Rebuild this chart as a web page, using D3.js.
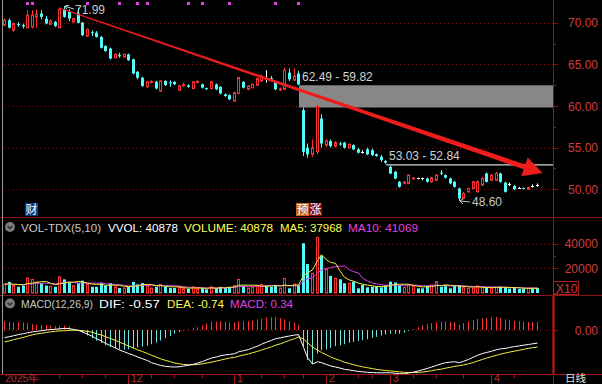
<!DOCTYPE html>
<html>
<head>
<meta charset="utf-8">
<script src="https://cdn.jsdelivr.net/npm/d3@7/dist/d3.min.js"></script>
<style>
  body { margin: 0; background: #000; }
  svg { display: block; font-family: "Liberation Sans", Arial, sans-serif; }
</style>
</head>
<body>
<svg id="chart" width="602" height="384"></svg>
<script>
// daily candles, index 0 = first bar (late Oct 2025)
const open = [69.7,70.3,69.1,69.85,69.7,69.4,69.5,70.7,71.1,70.5, 69.8,70.1,69.4,71.6,71.3,70.1,71.1,70.0,68.4,68.85,
  68.8,68.3,67.2,66.9,65.8,66.1,65.9,66.2,65.6,64.1, 63.4,62.3,62.9,62.9,61.8,63.0,62.85,62.9,61.9,62.5,
  62.45,62.1,62.9,62.6,62.15,62.1,62.6,62.3,61.4,61.3, 60.6,61.5,62.9,62.0,62.2,62.5,63.0,63.4,63.35,62.9,
  61.95,62.0,64.0,63.1,63.9,59.5,55.0,54.2,54.5,58.5, 55.3,55.8,55.2,55.5,55.6,55.0,55.3,54.8,54.5,54.8,
  54.7,54.2,53.9,53.4,52.7,52.1,50.9,50.8,50.7,51.25, 51.3,51.3,51.3,50.9,51.1,52.0,51.7,51.3,50.9,50.1,
  48.9,49.7,50.1,49.7,50.5,51.9,51.1,51.1,51.9,50.8, 50.6,50.4,50.2,50.15,50.0,50.4,50.5];
const high = [70.5,70.5,70.0,70.1,69.9,71.5,71.5,71.6,71.5,70.8, 70.4,70.2,71.7,71.99,71.6,70.6,71.8,70.1,69.3,69.1,
  69.0,68.4,67.3,67.0,66.3,66.4,66.3,66.3,65.7,64.2, 63.5,63.0,63.1,63.0,63.1,63.1,63.1,63.0,62.5,62.8,
  62.6,63.0,63.1,62.7,62.2,63.0,62.7,62.4,61.5,61.4, 61.7,63.5,63.0,62.5,62.7,63.4,63.8,64.3,63.6,63.0,
  62.2,64.6,64.5,64.5,64.2,59.82,55.5,56.0,60.3,59.0, 56.0,56.0,55.8,55.7,55.7,55.5,55.4,55.0,54.7,55.0,
  54.9,54.3,54.1,53.5,52.84,52.2,51.0,51.0,51.8,51.5, 51.4,51.4,51.4,51.5,51.8,52.3,51.8,51.4,51.0,50.2,
  49.7,50.2,51.0,51.1,51.5,52.0,51.8,52.1,52.0,50.9, 50.8,50.5,50.3,50.2,50.3,50.6,50.7];
const low = [69.6,69.3,68.9,69.5,69.3,69.4,69.3,69.4,70.4,69.8, 69.7,69.5,69.4,70.6,70.2,70.0,69.9,68.4,68.3,68.4,
  68.2,66.9,66.5,65.6,65.7,65.8,65.8,65.4,63.8,63.2, 62.3,62.2,62.7,62.0,61.7,62.4,62.3,62.5,61.8,62.3,
  62.2,62.0,62.7,62.1,61.9,62.0,61.9,61.4,61.1,60.7, 60.5,61.4,62.1,61.9,62.1,62.4,62.9,62.8,63.0,61.9,
  61.8,61.9,63.0,63.0,62.49,54.0,53.8,53.9,54.2,55.0, 55.1,55.0,55.0,55.2,54.9,54.9,54.7,54.3,54.3,54.1,
  54.0,53.9,53.3,53.03,51.8,51.2,50.2,50.6,50.6,51.2, 51.2,51.1,50.8,50.8,51.0,51.7,51.3,50.6,50.2,48.6,
  48.8,49.6,50.0,49.6,50.4,50.8,51.0,51.0,50.8,49.6, 50.4,49.9,50.1,50.0,49.9,50.2,50.3];
const close = [70.3,69.4,69.9,69.8,69.55,70.9,70.9,71.0,70.7,69.9, 70.2,69.6,71.6,70.7,70.5,70.5,70.0,68.5,69.2,68.8,
  68.3,67.0,66.6,65.7,66.2,66.05,66.2,65.5,63.9,63.4, 62.4,62.9,62.95,62.1,63.0,62.5,62.8,62.6,62.4,62.55,
  62.3,62.9,62.95,62.2,62.05,62.9,62.0,61.5,61.2,60.8, 61.6,63.4,62.2,62.4,62.6,63.3,63.6,63.4,63.3,62.0,
  62.05,64.3,63.2,63.6,62.6,54.5,54.2,55.0,60.0,55.5, 55.8,55.2,55.6,55.45,55.0,55.4,54.8,54.4,54.5,54.2,
  54.1,54.0,53.5,53.2,51.9,51.3,50.3,50.85,51.7,51.35, 51.3,51.3,50.9,51.4,51.7,51.95,51.4,50.7,50.3,48.9,
  49.5,50.1,50.9,50.9,51.3,50.9,51.7,51.9,50.9,49.7, 50.6,50.0,50.2,50.05,50.2,50.4,50.5];

// volume (axis units, x10)
const volume = [7000,9000,6000,5000,6000,12000,11000,9000,8000,6000, 5500,5000,13000,11000,9000,6000,8000,10000,7000,5000,
  5000,8000,6000,8000,5000,4000,4000,5000,9000,7000, 8000,6000,4000,5000,7000,5000,4000,4000,5000,3500,
  3500,5000,3500,4000,3000,5000,4000,5000,4000,5000, 6000,11000,6000,4000,4500,6000,7000,6000,5000,6000,
  4000,11800,3800,7200,6500,40300,23500,16000,45000,30200, 19200,13800,11900,11100,7900,7900,9200,3800,6500,4600,
  5100,5700,4600,6500,9200,8500,6500,4600,6500,5700, 3800,3800,5700,6500,9200,5100,6500,3800,5700,6500,
  5100,3800,3800,5700,4600,4600,3800,4600,5200,4600, 3600,4200,3400,3600,3800,4000,4100];
const ma5 = [7200,7400,7100,6800,6600,7600,8000,8600,9200,9200, 7900,6700,7500,8100,8700,8800,9400,8800,8000,7200,
  7000,7000,6200,6400,6400,6200,5400,5200,5400,5800, 6600,7000,6800,6000,6000,5400,5000,5000,5000,4300,
  4000,4000,4100,3900,3800,4100,3900,4200,4200,4600, 4800,6200,6400,6400,6300,6300,5500,5500,5700,6000,
  5600,6400,5900,6300,6600,13900,16300,18700,26300,31000, 26800,24800,24000,17200,12800,10500,9600,8000,7100,6400,
  5800,5100,5300,5300,6200,6900,7100,7100,7100,6200, 5400,4900,5100,5100,6000,6000,6600,6200,6100,5500,
  5500,5000,4800,5000,4600,4400,4500,4500,4600,4600, 4400,4400,4200,3900,3700,3800,3797];
const ma10 = [7000,7100,7000,6900,6800,7200,7500,7700,7900,7900, 7800,7400,8000,8600,8900,8400,8100,8200,8100,8000,
  7900,8200,7500,7200,6800,6600,6200,5700,5900,6100, 6400,6200,6100,5800,6000,6000,5900,5900,5500,5100,
  4700,4600,4500,4400,4000,4200,4100,4200,4100,4300, 4600,5200,5300,5300,5400,5500,5800,6000,6100,6200,
  5900,6000,5800,5900,6000,9600,11300,12300,16300,18600, 20000,20500,21300,21700,21900,18700,17300,16100,12100,9600,
  8100,7400,6700,6200,6300,6400,6200,6100,6400,6400, 6200,5800,5900,6100,6500,6100,5800,5700,5800,5800,
  5700,5500,5300,5200,5100,5000,4900,4800,4800,4700, 4500,4400,4300,4200,4100,4150,4107];

// MACD(12,26,9)
const dif = [-0.33,-0.29,-0.25,-0.2,-0.16,-0.12,-0.08,-0.06,-0.03,0.0, 0.02,0.03,0.05,0.07,0.06,0.02,-0.02,-0.08,-0.18,-0.28,
  -0.38,-0.48,-0.58,-0.68,-0.78,-0.87,-0.95,-1.02,-1.1,-1.17, -1.25,-1.33,-1.42,-1.49,-1.54,-1.58,-1.6,-1.61,-1.6,-1.57,
  -1.53,-1.49,-1.44,-1.37,-1.3,-1.22,-1.17,-1.12,-1.08,-1.06, -1.03,-0.95,-0.9,-0.85,-0.78,-0.7,-0.62,-0.53,-0.45,-0.38,
  -0.34,-0.3,-0.26,-0.22,-0.2,-0.75,-1.2,-1.48,-1.38,-1.42, -1.5,-1.56,-1.61,-1.66,-1.71,-1.74,-1.77,-1.8,-1.82,-1.84,
  -1.85,-1.86,-1.86,-1.86,-1.86,-1.88,-1.9,-1.9,-1.87,-1.83, -1.78,-1.73,-1.67,-1.61,-1.54,-1.47,-1.42,-1.4,-1.38,-1.42,
  -1.36,-1.28,-1.18,-1.1,-1.02,-0.98,-0.92,-0.86,-0.82,-0.8, -0.76,-0.72,-0.69,-0.66,-0.63,-0.6,-0.57];
const dea = [-0.52,-0.47,-0.42,-0.37,-0.32,-0.27,-0.21,-0.17,-0.14,-0.11, -0.08,-0.06,-0.04,-0.03,-0.02,-0.01,-0.01,-0.03,-0.06,-0.1,
  -0.16,-0.22,-0.29,-0.37,-0.45,-0.53,-0.62,-0.7,-0.78,-0.86, -0.94,-1.02,-1.1,-1.18,-1.25,-1.32,-1.38,-1.43,-1.47,-1.5,
  -1.51,-1.51,-1.5,-1.47,-1.44,-1.4,-1.35,-1.31,-1.26,-1.22, -1.19,-1.14,-1.09,-1.04,-0.99,-0.93,-0.87,-0.8,-0.73,-0.66,
  -0.6,-0.53,-0.45,-0.38,-0.3,-0.39,-0.55,-0.74,-0.87,-0.98, -1.08,-1.17,-1.26,-1.33,-1.4,-1.46,-1.51,-1.56,-1.6,-1.64,
  -1.68,-1.71,-1.74,-1.76,-1.78,-1.8,-1.82,-1.84,-1.85,-1.85, -1.84,-1.83,-1.8,-1.77,-1.73,-1.7,-1.66,-1.62,-1.58,-1.55,
  -1.52,-1.47,-1.41,-1.35,-1.28,-1.22,-1.16,-1.1,-1.05,-1.0, -0.96,-0.92,-0.88,-0.84,-0.8,-0.77,-0.74];
const macd = [0.38,0.36,0.34,0.34,0.32,0.30,0.26,0.22,0.22,0.22, 0.20,0.18,0.18,0.20,0.16,0.06,-0.02,-0.10,-0.24,-0.36,
  -0.46,-0.56,-0.66,-0.74,-0.80,-0.84,-0.86,-0.84,-0.80,-0.76, -0.72,-0.68,-0.62,-0.55,-0.46,-0.36,-0.26,-0.16,-0.08,-0.02,
  0.02,0.08,0.12,0.20,0.28,0.36,0.36,0.38,0.36,0.32, 0.32,0.38,0.38,0.38,0.42,0.46,0.50,0.54,0.56,0.56,
  0.52,0.46,0.38,0.32,0.20,-0.72,-1.30,-1.48,-1.02,-0.88, -0.84,-0.78,-0.70,-0.66,-0.62,-0.56,-0.52,-0.48,-0.44,-0.40,
  -0.34,-0.30,-0.24,-0.20,-0.16,-0.16,-0.16,-0.12,-0.04,0.04, 0.12,0.20,0.26,0.30,0.34,0.36,0.38,0.36,0.34,0.24,
  0.30,0.36,0.42,0.48,0.50,0.52,0.55,0.57,0.52,0.46, 0.42,0.40,0.38,0.36,0.35,0.34,0.34];

const priceTicks = [70, 65, 60, 55, 50];
const volTicks = [40000, 20000];
const monthStarts = [27, 50, 70, 84, 106];
const monthLabels = ['12', '1', '2', '3', '4'];
const weekTicks = [12, 17, 22, 32, 37, 43, 56, 61, 65, 77, 80, 89, 94, 100, 111];
const markBars = [5, 6, 18, 25, 29, 31, 40, 43, 49, 59, 64];
const gaps = [{bar: 64, hi: 62.49, lo: 59.82}, {bar: 83, hi: 53.03, lo: 52.84}];
const highBar = 13, lowBar = 99;

const RED = '#ff3232', CYAN = '#54fcfc', AXIS = '#8c1414', GRID = '#7a1010', LABEL = '#d23c3c';
const AXIS_X = 553;
const n = close.length;
const svg = d3.select('#chart');

svg.append('rect').attr('width', 602).attr('height', 384).attr('fill', '#000');

const x = d3.scaleBand().domain(d3.range(n)).range([2.7, 2.7 + 4.58 * n]).paddingInner(0.3);
const cx = i => Math.round(x(i) + x.bandwidth() / 2);
const y = d3.scaleLinear().domain([50, 70]).range([189.3, 22.7]);
const yv = d3.scaleLinear().domain([0, 40000]).range([293, 243.6]);
const ym = d3.scaleLinear().domain([-2, 1]).range([376, 307]);

const up = i => close[i] > open[i];
const flat = i => close[i] === open[i];
const col = i => flat(i) ? '#ffffff' : (up(i) ? RED : CYAN);

// grid lines
const dotted = (yy, x2) => svg.append('line').attr('x1', 4).attr('x2', x2).attr('y1', yy).attr('y2', yy)
  .attr('stroke', GRID).attr('stroke-dasharray', '1,3');
priceTicks.forEach(p => dotted(Math.round(y(p)) + 0.5, AXIS_X));
volTicks.forEach(v => dotted(Math.round(yv(v)) + 0.5, AXIS_X));
dotted(Math.round(ym(0)) + 0.5, AXIS_X);

// panel borders
[217.5, 295.5].forEach(yy => svg.append('line').attr('x1', 0).attr('x2', 602).attr('y1', yy).attr('y2', yy)
  .attr('stroke', AXIS));
svg.append('line').attr('x1', 0).attr('x2', 602).attr('y1', 374.5).attr('y2', 374.5).attr('stroke', '#a01818');
svg.append('line').attr('x1', AXIS_X + 0.5).attr('x2', AXIS_X + 0.5).attr('y1', 0).attr('y2', 384).attr('stroke', AXIS);
svg.append('line').attr('x1', AXIS_X + 0.5).attr('x2', AXIS_X + 0.5).attr('y1', 296).attr('y2', 374)
  .attr('stroke', '#e01010').attr('stroke-width', 2);
svg.append('line').attr('x1', 2.5).attr('x2', 2.5).attr('y1', 0).attr('y2', 374).attr('stroke', '#9a9a9a');

// gap boxes
gaps.forEach(g => {
  svg.append('rect').attr('x', cx(g.bar) + 1).attr('y', y(g.hi))
    .attr('width', AXIS_X - cx(g.bar) - 1).attr('height', Math.max(1.5, y(g.lo) - y(g.hi)))
    .attr('fill', g.hi - g.lo > 1 ? '#878787' : '#a8a8a8');
});

// candles
const candles = svg.append('g').selectAll('g').data(d3.range(n)).enter().append('g');
candles.append('line')
  .attr('x1', i => cx(i) + 0.5).attr('x2', i => cx(i) + 0.5)
  .attr('y1', i => y(high[i])).attr('y2', i => y(low[i]))
  .attr('stroke', col);
candles.filter(i => !up(i) && !flat(i)).append('rect')
  .attr('x', i => cx(i) - 1).attr('width', 3)
  .attr('y', i => y(open[i])).attr('height', i => Math.max(1, y(close[i]) - y(open[i])))
  .attr('fill', CYAN);
candles.filter(i => up(i)).append('rect')
  .attr('x', i => cx(i) - 0.5).attr('width', 2)
  .attr('y', i => y(close[i])).attr('height', i => Math.max(1, y(open[i]) - y(close[i])))
  .attr('fill', '#000').attr('stroke', RED);
candles.filter(i => flat(i)).append('line')
  .attr('x1', i => cx(i) - 1).attr('x2', i => cx(i) + 2)
  .attr('y1', i => Math.round(y(open[i])) + 0.5).attr('y2', i => Math.round(y(open[i])) + 0.5)
  .attr('stroke', '#fff');

// marks on top
svg.selectAll('rect.mk').data(markBars).enter().append('rect').attr('class', 'mk')
  .attr('x', i => cx(i) - 1).attr('y', 2).attr('width', 3).attr('height', 3).attr('fill', '#e040e0');

// text helper; w squeezes the label to the width seen in the chart
const txt = (t, xx, yy, c, anchor, w, fs) => {
  const el = svg.append('text').attr('x', xx).attr('y', yy)
    .attr('fill', c).attr('font-size', fs || 12).attr('text-anchor', anchor || 'start').text(t);
  if (w) el.attr('textLength', w).attr('lengthAdjust', 'spacingAndGlyphs');
  return el;
};

// high / low labels
const hx = cx(highBar), hy = y(high[highBar]);
svg.append('path').attr('d', `M${hx + 1},${hy} L${hx + 10},${hy + 3} M${hx + 1},${hy} l4,-1 M${hx + 1},${hy} l2,3`)
  .attr('stroke', '#c8c8c8').attr('fill', 'none');
txt('71.99', hx + 11, 14, '#c8c8c8');
const lx = cx(lowBar), ly = y(low[lowBar]);
svg.append('path').attr('d', `M${lx + 1},${ly} L${lx + 11},${ly + 1} M${lx + 1},${ly} l3,-2 M${lx + 1},${ly} l3,3`)
  .attr('stroke', '#c8c8c8').attr('fill', 'none');
txt('48.60', lx + 13, ly + 5, '#c8c8c8');
gaps.forEach(g => txt(g.hi.toFixed(2) + ' - ' + g.lo.toFixed(2), cx(g.bar) + 4, y(g.hi) - 4, '#d2d2d2'));

// trend arrow
const p0 = [x(12) + 1, y(71.8)], p1 = [cx(116) + 5.5, y(51.95)];
const dx = p1[0] - p0[0], dy = p1[1] - p0[1], L = Math.hypot(dx, dy);
const ux = dx / L, uy = dy / L, nx = -uy, ny = ux;
const hb = [p1[0] - 19 * ux, p1[1] - 19 * uy];
const arrow = [
  [p0[0] + nx * 0.5, p0[1] + ny * 0.5], [hb[0] + nx * 2.5, hb[1] + ny * 2.5], [hb[0] + nx * 10, hb[1] + ny * 10],
  p1, [hb[0] - nx * 10, hb[1] - ny * 10], [hb[0] - nx * 2.5, hb[1] - ny * 2.5], [p0[0] - nx * 0.5, p0[1] - ny * 0.5]];
svg.append('path').attr('d', d3.line()(arrow) + 'Z').attr('fill', '#f01c1c');

// event tags
const tag = (t, xx, bg) => {
  svg.append('rect').attr('x', xx).attr('y', 203).attr('width', 13).attr('height', 13).attr('fill', bg);
  svg.append('text').attr('x', xx + 6.5).attr('y', 214).attr('text-anchor', 'middle')
    .attr('font-family', '"Noto Sans CJK SC", sans-serif').attr('font-size', 12).attr('fill', '#fff').text(t);
};
tag('财', 25, '#0c3c82');
tag('预', cx(64) - 2, '#c8641e');
tag('涨', cx(64) + 11, '#8c0c0c');

// volume bars
const vb = svg.append('g').selectAll('g').data(d3.range(n)).enter().append('g');
vb.filter(i => !up(i)).append('rect')
  .attr('x', i => cx(i) - 1).attr('width', 3)
  .attr('y', i => yv(volume[i])).attr('height', i => yv(0) - yv(volume[i]))
  .attr('fill', CYAN);
vb.filter(i => up(i)).append('rect')
  .attr('x', i => cx(i) - 0.5).attr('width', 2)
  .attr('y', i => yv(volume[i])).attr('height', i => yv(0) - yv(volume[i]))
  .attr('fill', '#000').attr('stroke', RED);
const lineV = arr => d3.line().x((d, i) => cx(i) + 0.5).y(d => yv(d))(arr);
svg.append('path').attr('d', lineV(ma10)).attr('fill', 'none').attr('stroke', '#e040e0');
svg.append('path').attr('d', lineV(ma5)).attr('fill', 'none').attr('stroke', '#f0f040');

// MACD
svg.append('defs').append('clipPath').attr('id', 'mclip').append('rect')
  .attr('x', 0).attr('y', 310).attr('width', AXIS_X).attr('height', 64);
const mg = svg.append('g').attr('clip-path', 'url(#mclip)');
mg.selectAll('line').data(d3.range(n)).enter().append('line')
  .attr('x1', i => cx(i) + 0.5).attr('x2', i => cx(i) + 0.5)
  .attr('y1', ym(0)).attr('y2', i => ym(macd[i]))
  .attr('stroke', i => macd[i] >= 0 ? RED : '#6ee6e6');
const lineM = arr => d3.line().x((d, i) => cx(i) + 0.5).y(d => ym(d))(arr);
mg.append('path').attr('d', lineM(dea)).attr('fill', 'none').attr('stroke', '#f0f040');
mg.append('path').attr('d', lineM(dif)).attr('fill', 'none').attr('stroke', '#ffffff');

// right axis
const tick = (yy, len) => svg.append('line').attr('x1', AXIS_X).attr('x2', AXIS_X + len)
  .attr('y1', Math.round(yy) + 0.5).attr('y2', Math.round(yy) + 0.5).attr('stroke', AXIS);
d3.range(50, 72.5, 2.5).forEach(p => tick(y(p), p % 5 === 0 ? 5 : 3));
priceTicks.forEach(p => txt(p.toFixed(2), 598, y(p) + 4.5, LABEL, 'end'));
[0, 10000, 20000, 30000, 40000].forEach(v => tick(yv(v), v % 20000 === 0 ? 5 : 3));
volTicks.forEach(v => txt(String(v), 598, yv(v) + 4.5, LABEL, 'end'));
svg.append('rect').attr('x', AXIS_X + 0.5).attr('y', 281.5).attr('width', 25).attr('height', 13)
  .attr('fill', 'none').attr('stroke', '#b02020');
txt('X10', AXIS_X + 3, 292.5, LABEL);
tick(ym(0), 5);
txt('0.00', 598, ym(0) + 4.5, LABEL, 'end');

// bottom axis
monthStarts.forEach((b, k) => {
  svg.append('line').attr('x1', cx(b) + 0.5).attr('x2', cx(b) + 0.5).attr('y1', 375).attr('y2', 384).attr('stroke', '#a01818');
  txt(monthLabels[k], cx(b) + 3, 382, '#b43232', 'start', null, 10.5);
});
weekTicks.forEach(b => svg.append('line').attr('x1', cx(b) + 0.5).attr('x2', cx(b) + 0.5)
  .attr('y1', 375).attr('y2', 378).attr('stroke', '#a01818'));
txt('2025年', 5, 382, '#b43232', 'start', null, 10.5);
svg.append('text').attr('x', 565).attr('y', 382).attr('font-size', 10.5).attr('fill', '#e0e0e0')
  .attr('font-family', '"Noto Sans CJK SC", sans-serif').text('日线');

// indicator headers
const icon = yy => {
  svg.append('circle').attr('cx', 10).attr('cy', yy).attr('r', 5).attr('fill', '#7c7c7c');
  svg.append('path').attr('d', `M7.5,${yy - 1} L10,${yy + 1.5} L12.5,${yy - 1}`).attr('stroke', '#2a2a2a')
    .attr('stroke-width', 1.3).attr('fill', 'none');
};
icon(227);
txt('VOL-TDX(5,10)', 21, 232, '#c8c8c8', 'start', 80, 11.5);
txt('VVOL: 40878', 108, 232, '#ffffff', 'start', 70, 11.5);
txt('VOLUME: 40878', 184, 232, '#ffff54', 'start', 89, 11.5);
txt('MA5: 37968', 280, 232, '#ffff54', 'start', 62, 11.5);
txt('MA10: 41069', 348, 232, '#e040e0', 'start', 70, 11.5);
icon(303.5);
txt('MACD(12,26,9)', 21, 308, '#c8c8c8', 'start', 72, 11);
txt('DIF: -0.57', 99, 308, '#ffffff', 'start', 61, 11.5);
txt('DEA: -0.74', 167, 308, '#ffff54', 'start', 57, 11.5);
txt('MACD: 0.34', 230, 308, '#e040e0', 'start', 63, 11.5);
</script>
</body>
</html>
